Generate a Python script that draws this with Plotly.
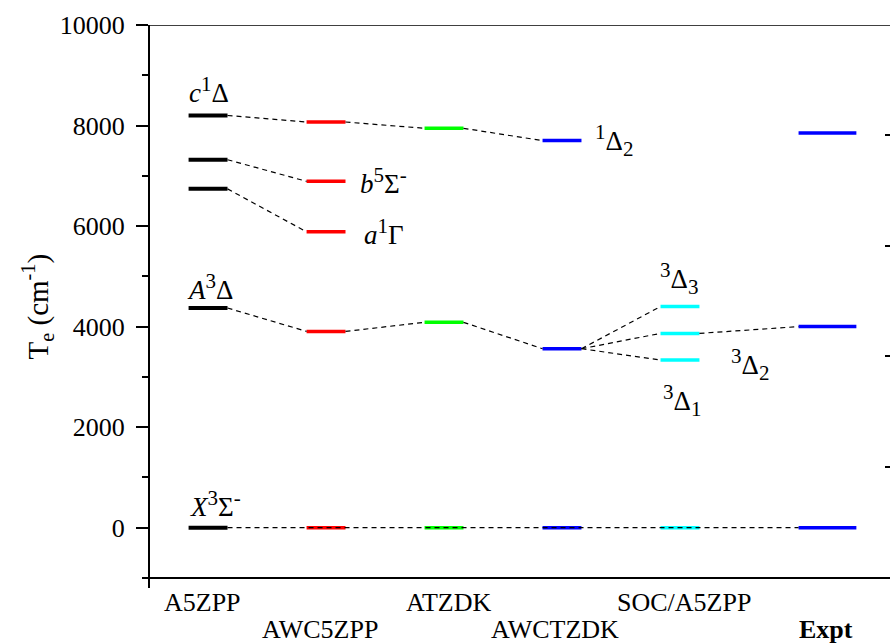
import plotly.graph_objects as go

# ---------------- data ----------------
categories = ["A5ZPP", "AWC5ZPP", "ATZDK", "AWCTZDK", "SOC/A5ZPP", "Expt"]
cat_pos = [1, 2, 3, 4, 5, 6.25]
cat_colors = ["#000000", "#FF0000", "#00FF00", "#0000FF", "#00FFFF", "#0000FF"]

lv_A5ZPP = [0, 4370, 6740, 7320, 8200]
lv_AWC5ZPP = [0, 3905, 5885, 6890, 8070]
lv_ATZDK = [0, 4085, 7945]
lv_AWCTZDK = [0, 3560, 7700]
lv_SOC = [0, 3335, 3865, 4400]
lv_Expt = [0, 4000, 7850]
levels = [lv_A5ZPP, lv_AWC5ZPP, lv_ATZDK, lv_AWCTZDK, lv_SOC, lv_Expt]

# correlation links: (category a, level a, category b, level b)
links = [
    (0, 4, 1, 4), (1, 4, 2, 2), (2, 2, 3, 2),
    (0, 3, 1, 3),
    (0, 2, 1, 2),
    (0, 1, 1, 1), (1, 1, 2, 1), (2, 1, 3, 1),
    (3, 1, 4, 1), (3, 1, 4, 2), (3, 1, 4, 3), (4, 2, 5, 1),
    (0, 0, 5, 0),
]

# ---------------- style ----------------
FONT = "Liberation Serif"
S = "<span style='font-size:21px'>%s</span>"


def sup(t):
    return "<sup>" + S % t + "</sup>"


def sub(t):
    return "<sub>" + S % t + "</sub>"


# state labels: (text, category, level index)
state_labels = [
    ("<i>c</i>" + sup("1") + "Δ", 0, 4),
    ("<i>A</i>" + sup("3") + "Δ", 0, 1),
    ("<i>X</i>" + sup("3") + "Σ" + sup("-"), 0, 0),
    ("<i>b</i>" + sup("5") + "Σ" + sup("-"), 1, 3),
    ("<i>a</i>" + sup("1") + "Γ", 1, 2),
    (sup("1") + "Δ" + sub("2"), 3, 2),
    (sup("3") + "Δ" + sub("3"), 4, 3),
    (sup("3") + "Δ" + sub("2"), 4, 2),
    (sup("3") + "Δ" + sub("1"), 4, 1),
]

half_w = [0.165, 0.165, 0.165, 0.165, 0.165, 0.245]
bar_w = [4, 3.5, 3.5, 3.5, 3.5, 3.5]
label_style = [  # xanchor, xshift, yshift
    ("center", 1, 25),
    ("center", 2, 21),
    ("center", 7, 24),
    ("left", 32, 0),
    ("left", 36, 0),
    ("left", 31, 0),
    ("center", -1, 28),
    ("left", 49, -31),
    ("center", 2, -40),
]
cat_label_row = [0, 1, 0, 1, 0, 1]
cat_label_dx = [-6, -6, 4, -7, 4, -1]

fig = go.Figure()

# level bars
for i, lv in enumerate(levels):
    xs, ys = [], []
    for v in lv:
        xs += [cat_pos[i] - half_w[i], cat_pos[i] + half_w[i], None]
        ys += [v, v, None]
    fig.add_trace(go.Scatter(x=xs, y=ys, mode="lines",
                             line=dict(color=cat_colors[i], width=bar_w[i]),
                             hoverinfo="skip", showlegend=False))

# dashed correlation lines
lx, ly = [], []
for ca, la, cb, lb in links:
    lx += [cat_pos[ca] + half_w[ca], cat_pos[cb] - half_w[cb], None]
    ly += [levels[ca][la], levels[cb][lb], None]
fig.add_trace(go.Scatter(x=lx, y=ly, mode="lines",
                         line=dict(color="black", width=1.2, dash="5px,4px"),
                         hoverinfo="skip", showlegend=False))

# dummy trace for the right-hand tick axis
fig.add_trace(go.Scatter(x=[None], y=[None], yaxis="y2", showlegend=False))

annotations = []
for (txt, c, l), (xa, dx, dy) in zip(state_labels, label_style):
    annotations.append(dict(
        text=txt, x=cat_pos[c], y=levels[c][l], xref="x", yref="y",
        xanchor=xa, yanchor="middle", xshift=dx, yshift=dy, showarrow=False,
        font=dict(family=FONT, size=27, color="black")))

for i, name in enumerate(categories):
    txt = "<b>%s</b>" % name if name == "Expt" else name
    annotations.append(dict(
        text=txt, x=cat_pos[i], xref="x", yref="paper",
        y=-0.026 if cat_label_row[i] == 0 else -0.073,
        xanchor="center", yanchor="middle", xshift=cat_label_dx[i],
        showarrow=False, font=dict(family=FONT, size=26, color="black")))

annotations.append(dict(
    text="T<sub>e</sub> (cm<sup>-1</sup>)", textangle=-90,
    x=-0.1527, y=0.5, xref="paper", yref="paper",
    xanchor="center", yanchor="middle", showarrow=False,
    font=dict(family=FONT, size=29, color="black")))

fig.update_layout(
    width=890, height=643,
    margin=dict(l=150, r=0, t=25, b=55),
    plot_bgcolor="white", paper_bgcolor="white",
    font=dict(family=FONT, size=26, color="black"),
    xaxis=dict(range=[0.508, 6.78], anchor="free", position=0.0178,
               showline=True, linecolor="black", linewidth=2,
               showticklabels=False, ticks="", showgrid=False, zeroline=False),
    yaxis=dict(range=[-1200, 10000], tickmode="linear", tick0=0, dtick=2000,
               tickformat="d",
               ticks="outside", ticklen=12, tickwidth=1.5, tickcolor="black",
               minor=dict(dtick=1000, ticks="outside", ticklen=6,
                          tickwidth=1.5, tickcolor="black"),
               showline=True, linecolor="black", linewidth=2,
               showgrid=False, zeroline=False, ticklabelstandoff=6,
               tickfont=dict(family=FONT, size=26, color="black")),
    yaxis2=dict(overlaying="y", side="right", range=[-0.093, 4.993],
                tickmode="linear", tick0=0, dtick=1, ticks="inside",
                ticklen=5, tickwidth=1.5, tickcolor="black",
                showticklabels=False, showline=False, showgrid=False,
                zeroline=False),
    shapes=[dict(type="line", xref="paper", yref="y", x0=0, x1=1,
                 y0=10000, y1=10000, line=dict(color="black", width=1.5))],
    annotations=annotations,
)

fig.write_html("out.html")
